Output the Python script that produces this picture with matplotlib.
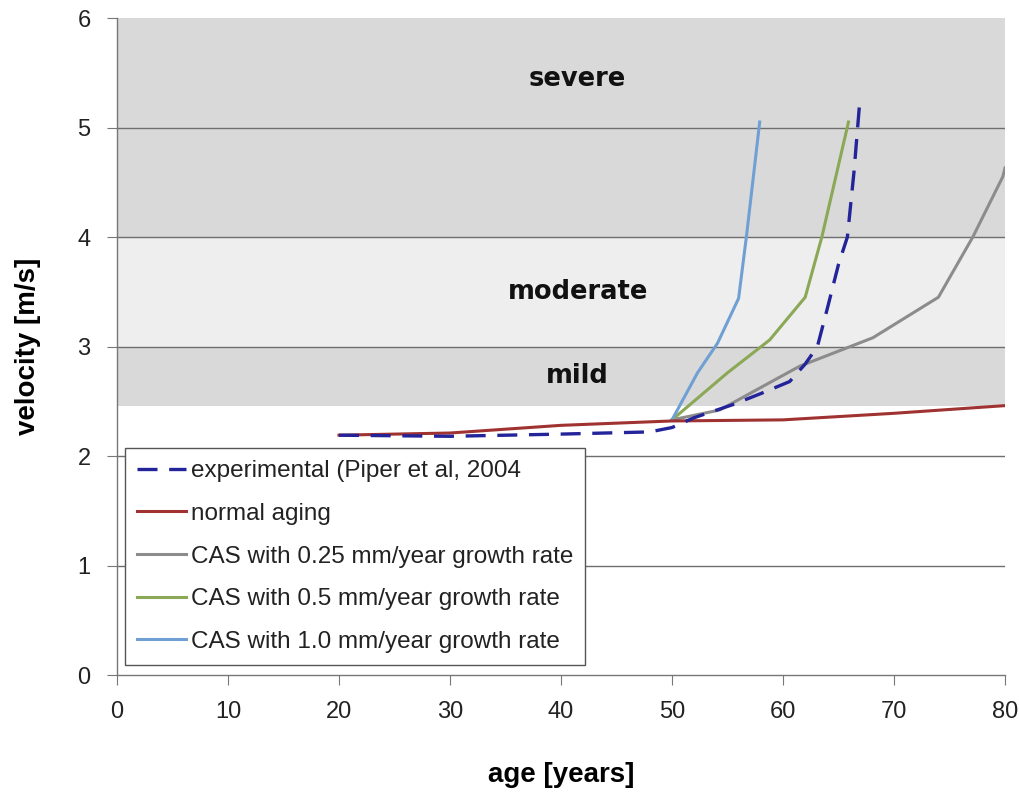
import matplotlib
matplotlib.use("Agg")
import matplotlib.pyplot as plt

# band limits (velocity, m/s)
bands = [(2.46, 3.0, '#d9d9d9'), (3.0, 4.0, '#eeeeee'), (4.0, 6.0, '#d9d9d9')]
band_labels = ['mild', 'moderate', 'severe']
band_label_y = [2.73, 3.5, 5.44]

exp_age = [20, 30, 40, 48, 50, 52, 55.5, 58, 60.6, 62, 63.1, 64, 65, 65.8, 66.4, 66.9]
exp_vel = [2.19, 2.18, 2.2, 2.22, 2.26, 2.35, 2.47, 2.57, 2.68, 2.84, 3.0, 3.35, 3.75, 4.0, 4.6, 5.22]

normal_age = [20, 30, 40, 50, 60, 70, 80]
normal_vel = [2.19, 2.21, 2.28, 2.32, 2.33, 2.39, 2.46]

cas025_age = [50, 54.3, 61.5, 68.1, 74, 77.1, 79.8, 80]
cas025_vel = [2.33, 2.42, 2.82, 3.08, 3.45, 4.0, 4.55, 4.63]

cas05_age = [50, 55, 58.8, 62, 63.5, 65.9]
cas05_vel = [2.33, 2.76, 3.06, 3.45, 4.0, 5.05]

cas10_age = [50, 52.3, 54.1, 56, 56.7, 57.9]
cas10_vel = [2.33, 2.76, 3.03, 3.44, 4.0, 5.05]

fig = plt.figure(figsize=(10.2, 7.93), dpi=100)
ax = fig.add_axes([0.1147, 0.1488, 0.8706, 0.8285])

for (lo, hi, c) in bands:
    ax.axhspan(lo, hi, color=c, zorder=0, lw=0)
for yv in range(1, 6):
    ax.axhline(yv, color='#6e6e6e', lw=1.0, zorder=1)

for lab, yv in zip(band_labels, band_label_y):
    ax.text(41.5, yv, lab, ha='center', va='center', fontsize=18.5,
            fontweight='bold', family='DejaVu Sans', color='#111111', zorder=2)

ax.plot(cas025_age, cas025_vel, color='#8c8c8c', lw=2.2, zorder=3,
        label='CAS with 0.25 mm/year growth rate')
ax.plot(cas05_age, cas05_vel, color='#8aa855', lw=2.2, zorder=3,
        label='CAS with 0.5 mm/year growth rate')
ax.plot(cas10_age, cas10_vel, color='#6f9fd3', lw=2.2, zorder=3,
        label='CAS with 1.0 mm/year growth rate')
ax.plot(normal_age, normal_vel, color='#a03232', lw=2.2, zorder=4,
        label='normal aging')
ax.plot(exp_age, exp_vel, color='#23239a', lw=2.4, dashes=(6, 3.5), zorder=5,
        label='experimental (Piper et al, 2004')

handles, labels = ax.get_legend_handles_labels()
order = [4, 3, 0, 1, 2]
leg = ax.legend([handles[i] for i in order], [labels[i] for i in order],
                loc='lower left', bbox_to_anchor=(0.009, 0.015),
                prop={'family': 'Liberation Sans', 'size': 17.5},
                frameon=True, fancybox=False, framealpha=1,
                edgecolor='#555555', handlelength=2.0, handletextpad=0.2,
                labelspacing=0.85, borderpad=0.5, borderaxespad=0)
leg.get_frame().set_linewidth(1.0)
for t in leg.get_texts():
    t.set_color('#222222')

ax.set_xlim(0, 80)
ax.set_ylim(0, 6)
ax.set_xticks(range(0, 81, 10))
ax.set_yticks(range(0, 7))
ax.tick_params(direction='out', length=7, color='#777777', labelsize=17,
               labelcolor='#222222')
ax.tick_params(axis='x', pad=12)
ax.tick_params(axis='y', pad=12)
for lbl in ax.get_xticklabels() + ax.get_yticklabels():
    lbl.set_family('Liberation Sans')

for s in ['top', 'right']:
    ax.spines[s].set_visible(False)
for s in ['left', 'bottom']:
    ax.spines[s].set_color('#777777')
    ax.spines[s].set_linewidth(1.0)

ax.set_xlabel('age [years]', fontsize=20, fontweight='bold',
              family='Liberation Sans', labelpad=28)
ax.set_ylabel('velocity [m/s]', fontsize=20, fontweight='bold',
              family='Liberation Sans', labelpad=26)

fig.savefig('out.png', dpi=100)
